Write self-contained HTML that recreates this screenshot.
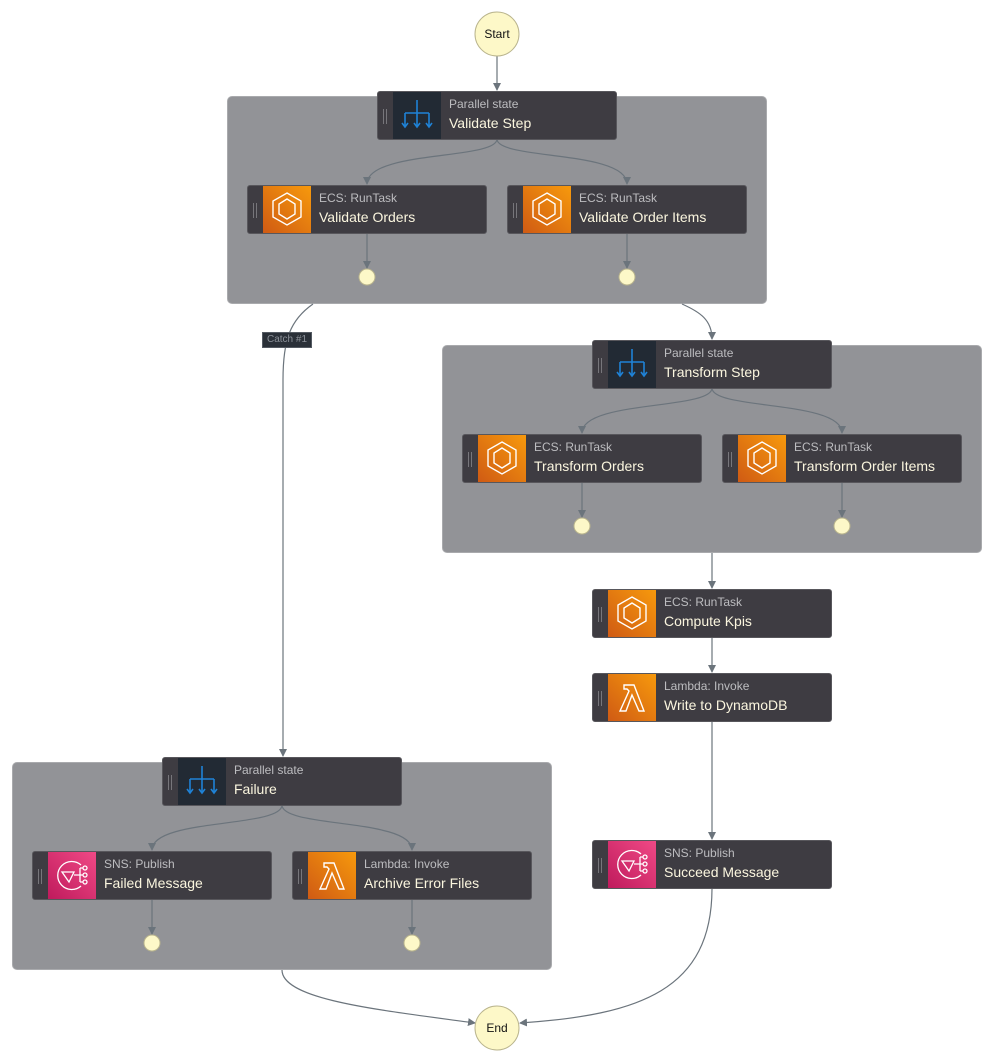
<!DOCTYPE html>
<html><head><meta charset="utf-8"><style>
*{margin:0;padding:0;box-sizing:border-box}
body{width:995px;height:1062px;background:#fff;position:relative;overflow:hidden;font-family:"Liberation Sans",Arial,sans-serif}
.grp{position:absolute;background:#929397;border:1px solid #a9aaad;border-radius:5px}
.node{position:absolute;width:240px;height:49px;background:#3e3c42;border:1px solid #58575c;border-radius:3px;overflow:hidden}
.node .h{position:absolute;left:5px;top:17px;width:4px;height:15px;border-left:1.5px solid #77767b;border-right:1.5px solid #77767b}
.node .ic{position:absolute;left:15px;top:-1px;width:48px;height:49px}
.node .t{position:absolute;left:71px;top:5px;font-size:12px;color:#bdbdc0}
.node .n{position:absolute;left:71px;top:23px;font-size:14px;color:#fbf6df}
.ecs{background:linear-gradient(225deg,#f79a0c,#cf5a14)}
.sns{background:linear-gradient(225deg,#f04a86,#bf1a5c)}
.par{background:#222a34}
svg.ov{position:absolute;left:0;top:0}
.catch{position:absolute;left:262px;top:332px;width:50px;height:16px;background:#2a3038;border:1px solid #545a62;color:#8b9098;font-size:10px;text-align:center;line-height:14px}
</style></head><body>
<div class="grp" style="left:227px;top:96px;width:540px;height:208px"></div>
<div class="grp" style="left:442px;top:345px;width:540px;height:208px"></div>
<div class="grp" style="left:12px;top:762px;width:540px;height:208px"></div>

<svg class="ov" width="995" height="1062">
<defs><marker id="a" markerWidth="8" markerHeight="8" refX="7" refY="4" orient="auto" markerUnits="userSpaceOnUse"><path d="M0,0 L8,4 L0,8z" fill="#6b747c"/></marker></defs>
<g fill="none" stroke="#6b747c" stroke-width="1.2" marker-end="url(#a)">
<path d="M497,56 V90"/>
<path d="M497,139 C497,160 367,150 367,184"/>
<path d="M497,139 C497,160 627,150 627,184"/>
<path d="M367,233 V268"/>
<path d="M627,233 V268"/>
<path d="M682,304 C700,312 712,320 712,339"/>
<path d="M313,304 C290,320 283,340 283,380 V756"/>
<path d="M712,388 C712,410 582,400 582,433"/>
<path d="M712,388 C712,410 842,400 842,433"/>
<path d="M582,482 V517"/>
<path d="M842,482 V517"/>
<path d="M712,553 V588"/>
<path d="M712,637 V672"/>
<path d="M712,721 V839"/>
<path d="M282,805 C282,828 152,818 152,850"/>
<path d="M282,805 C282,828 412,818 412,850"/>
<path d="M152,899 V934"/>
<path d="M412,899 V934"/>
<path d="M712,888 C712,990 640,1015 520,1023"/>
<path d="M282,970 C282,1000 380,1010 475,1023"/>
</g>
<g fill="#fdf8c8" stroke="#b9b48d">
<circle cx="497" cy="34" r="22"/><circle cx="497" cy="1028" r="22"/>
<circle cx="367" cy="277" r="8"/><circle cx="627" cy="277" r="8"/>
<circle cx="582" cy="526" r="8"/><circle cx="842" cy="526" r="8"/>
<circle cx="152" cy="943" r="8"/><circle cx="412" cy="943" r="8"/>
</g>
<text x="497" y="38" font-size="12" text-anchor="middle" fill="#111" font-family="Liberation Sans">Start</text>
<text x="497" y="1032" font-size="12" text-anchor="middle" fill="#111" font-family="Liberation Sans">End</text>
</svg>
<div class="catch">Catch #1</div>

<!-- icons templates inline -->
<div class="node" style="left:377px;top:91px"><div class="h"></div><div class="ic par"><svg width="48" height="49"><g stroke="#1f82d6" stroke-width="1.6" fill="none"><path d="M24,9V36M12,22H36M12,22V36M36,22V36"/><path d="M9,32l3,4l3,-4M21,32l3,4l3,-4M33,32l3,4l3,-4"/></g></svg></div><div class="t">Parallel state</div><div class="n">Validate Step</div></div>
<div class="node" style="left:592px;top:340px"><div class="h"></div><div class="ic par"><svg width="48" height="49"><g stroke="#1f82d6" stroke-width="1.6" fill="none"><path d="M24,9V36M12,22H36M12,22V36M36,22V36"/><path d="M9,32l3,4l3,-4M21,32l3,4l3,-4M33,32l3,4l3,-4"/></g></svg></div><div class="t">Parallel state</div><div class="n">Transform Step</div></div>
<div class="node" style="left:162px;top:757px"><div class="h"></div><div class="ic par"><svg width="48" height="49"><g stroke="#1f82d6" stroke-width="1.6" fill="none"><path d="M24,9V36M12,22H36M12,22V36M36,22V36"/><path d="M9,32l3,4l3,-4M21,32l3,4l3,-4M33,32l3,4l3,-4"/></g></svg></div><div class="t">Parallel state</div><div class="n">Failure</div></div>

<div class="node" style="left:247px;top:185px"><div class="h"></div><div class="ic ecs"><svg width="48" height="49"><g stroke="#fff" stroke-width="1.4" fill="none"><path d="M24,8L38,16V32L24,40L10,32V16Z"/><path d="M24,14L32,19V29L24,34L16,29V19Z"/></g></svg></div><div class="t">ECS: RunTask</div><div class="n">Validate Orders</div></div>
<div class="node" style="left:507px;top:185px"><div class="h"></div><div class="ic ecs"><svg width="48" height="49"><g stroke="#fff" stroke-width="1.4" fill="none"><path d="M24,8L38,16V32L24,40L10,32V16Z"/><path d="M24,14L32,19V29L24,34L16,29V19Z"/></g></svg></div><div class="t">ECS: RunTask</div><div class="n">Validate Order Items</div></div>
<div class="node" style="left:462px;top:434px"><div class="h"></div><div class="ic ecs"><svg width="48" height="49"><g stroke="#fff" stroke-width="1.4" fill="none"><path d="M24,8L38,16V32L24,40L10,32V16Z"/><path d="M24,14L32,19V29L24,34L16,29V19Z"/></g></svg></div><div class="t">ECS: RunTask</div><div class="n">Transform Orders</div></div>
<div class="node" style="left:722px;top:434px"><div class="h"></div><div class="ic ecs"><svg width="48" height="49"><g stroke="#fff" stroke-width="1.4" fill="none"><path d="M24,8L38,16V32L24,40L10,32V16Z"/><path d="M24,14L32,19V29L24,34L16,29V19Z"/></g></svg></div><div class="t">ECS: RunTask</div><div class="n">Transform Order Items</div></div>
<div class="node" style="left:592px;top:589px"><div class="h"></div><div class="ic ecs"><svg width="48" height="49"><g stroke="#fff" stroke-width="1.4" fill="none"><path d="M24,8L38,16V32L24,40L10,32V16Z"/><path d="M24,14L32,19V29L24,34L16,29V19Z"/></g></svg></div><div class="t">ECS: RunTask</div><div class="n">Compute Kpis</div></div>
<div class="node" style="left:592px;top:673px"><div class="h"></div><div class="ic ecs"><svg width="48" height="49"><path d="M16,12H26L36,38H31L24,22L18,38H12L21,18L19,16H16Z" stroke="#fff" stroke-width="1.4" fill="none"/></svg></div><div class="t">Lambda: Invoke</div><div class="n">Write to DynamoDB</div></div>
<div class="node" style="left:292px;top:851px"><div class="h"></div><div class="ic ecs"><svg width="48" height="49"><path d="M16,12H26L36,38H31L24,22L18,38H12L21,18L19,16H16Z" stroke="#fff" stroke-width="1.4" fill="none"/></svg></div><div class="t">Lambda: Invoke</div><div class="n">Archive Error Files</div></div>
<div class="node" style="left:32px;top:851px"><div class="h"></div><div class="ic sns"><svg width="48" height="49"><g stroke="#fff" stroke-width="1.3" fill="none"><path d="M33,14A14,14 0 1 0 33,35"/><path d="M14,21H26L21,31Z"/><path d="M26,24H32M32,17V31M32,17H35M32,31H35M32,24H35"/><circle cx="37" cy="17" r="2"/><circle cx="37" cy="24" r="2"/><circle cx="37" cy="31" r="2"/></g></svg></div><div class="t">SNS: Publish</div><div class="n">Failed Message</div></div>
<div class="node" style="left:592px;top:840px"><div class="h"></div><div class="ic sns"><svg width="48" height="49"><g stroke="#fff" stroke-width="1.3" fill="none"><path d="M33,14A14,14 0 1 0 33,35"/><path d="M14,21H26L21,31Z"/><path d="M26,24H32M32,17V31M32,17H35M32,31H35M32,24H35"/><circle cx="37" cy="17" r="2"/><circle cx="37" cy="24" r="2"/><circle cx="37" cy="31" r="2"/></g></svg></div><div class="t">SNS: Publish</div><div class="n">Succeed Message</div></div>
</body></html>
